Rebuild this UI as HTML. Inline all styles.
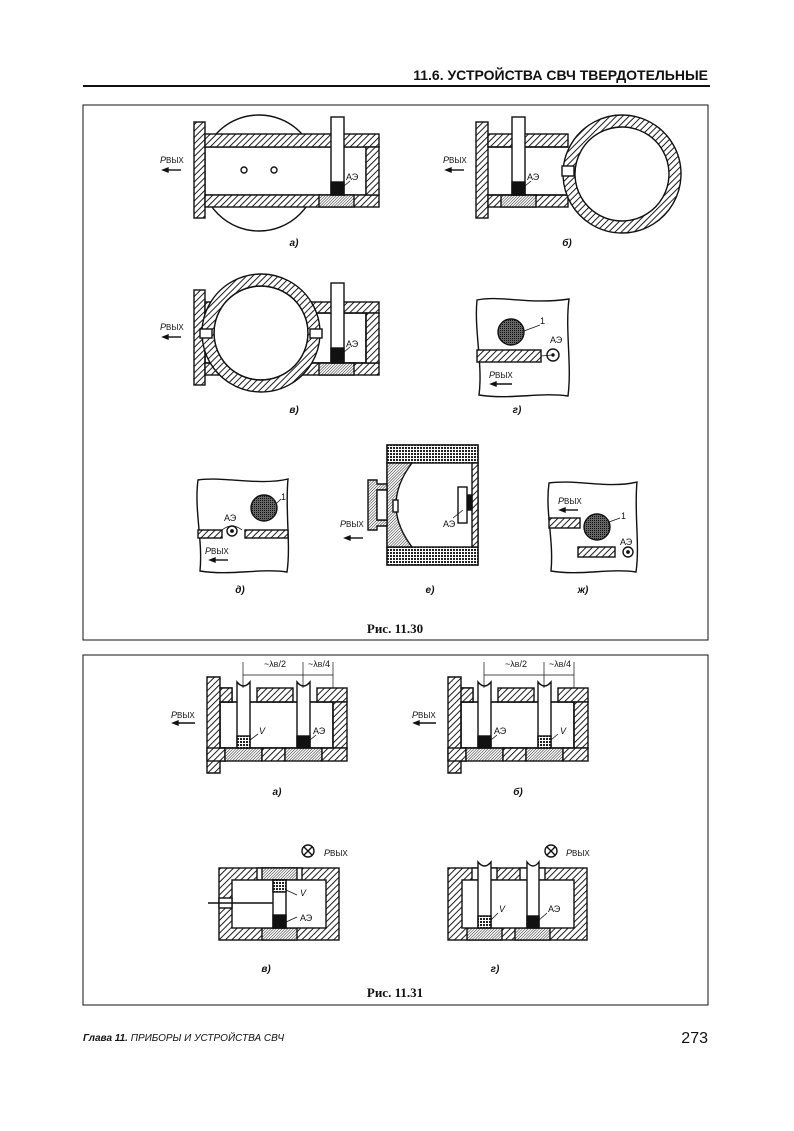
<!DOCTYPE html>
<html><head><meta charset="utf-8"><style>
body{margin:0;background:#fff}
svg{display:block}
text{font-family:"Liberation Sans",sans-serif;fill:#111}
</style></head><body>
<svg width="794" height="1131" viewBox="0 0 794 1131" xmlns="http://www.w3.org/2000/svg">
<defs>
<pattern id="h" width="4.5" height="4.5" patternUnits="userSpaceOnUse" patternTransform="rotate(45)">
<rect width="4.5" height="4.5" fill="#fff"/><line x1="0" y1="0" x2="0" y2="4.5" stroke="#111" stroke-width="1.9"/></pattern>
<pattern id="f" width="2" height="2" patternUnits="userSpaceOnUse" patternTransform="rotate(45)">
<rect width="2" height="2" fill="#fff"/><line x1="0" y1="0" x2="0" y2="2" stroke="#222" stroke-width="1"/></pattern>
<pattern id="c" width="3" height="3" patternUnits="userSpaceOnUse">
<rect width="3" height="3" fill="#fff"/><rect width="2" height="2" fill="#222"/></pattern>
<pattern id="d" width="2" height="2" patternUnits="userSpaceOnUse">
<rect width="2" height="2" fill="#666"/><rect width="1" height="1" fill="#111"/></pattern>
</defs>
<g stroke="#111" stroke-width="1.4">
<line x1="83" y1="86" x2="710" y2="86" stroke-width="2"/>
<rect x="83" y="105" width="625" height="535" fill="none" stroke-width="1"/>
<rect x="83" y="655" width="625" height="350" fill="none" stroke-width="1"/>

<!-- Fig a -->
<circle cx="259" cy="173" r="58" fill="#fff"/>
<rect x="205" y="147" width="161" height="48" fill="#fff"/>
<rect x="194" y="122" width="11" height="96" fill="url(#h)"/>
<rect x="205" y="134" width="174" height="13" fill="url(#h)"/>
<rect x="205" y="195" width="174" height="12" fill="url(#h)"/>
<rect x="319" y="195" width="35" height="12" fill="url(#f)"/>
<rect x="366" y="147" width="13" height="48" fill="url(#h)"/>
<rect x="331" y="117" width="13" height="78" fill="#fff"/>
<rect x="331" y="182" width="13" height="13" fill="#111"/>
<circle cx="244" cy="170" r="3" fill="#fff"/><circle cx="274" cy="170" r="3" fill="#fff"/>
<line x1="165" y1="170" x2="181" y2="170"/><path d="M163 170l5-2v4z" fill="#111"/>
<line x1="344" y1="186" x2="350" y2="181" stroke-width="0.8"/>

<!-- Fig b -->
<rect x="488" y="147" width="85" height="48" fill="#fff" stroke="none"/>
<rect x="476" y="122" width="12" height="96" fill="url(#h)"/>
<rect x="488" y="134" width="80" height="13" fill="url(#h)"/>
<rect x="488" y="195" width="80" height="12" fill="url(#h)"/>
<rect x="501" y="195" width="35" height="12" fill="url(#f)"/>
<line x1="488" y1="147" x2="568" y2="147"/><line x1="488" y1="195" x2="568" y2="195"/>
<path d="M622 115a59 59 0 1 0 0.01 0zM622 127a47 47 0 1 1 -0.01 0z" fill="url(#h)" fill-rule="evenodd"/>
<rect x="562" y="166" width="12" height="10" fill="#fff"/>
<rect x="512" y="117" width="13" height="78" fill="#fff"/>
<rect x="512" y="182" width="13" height="13" fill="#111"/>
<line x1="448" y1="170" x2="464" y2="170"/><path d="M446 170l5-2v4z" fill="#111"/>
<line x1="525" y1="186" x2="531" y2="181" stroke-width="0.8"/>

<!-- Fig v -->
<rect x="205" y="313" width="161" height="50" fill="#fff"/>
<rect x="194" y="290" width="11" height="95" fill="url(#h)"/>
<rect x="205" y="302" width="174" height="11" fill="url(#h)"/>
<rect x="205" y="363" width="174" height="12" fill="url(#h)"/>
<rect x="319" y="363" width="35" height="12" fill="url(#f)"/>
<rect x="366" y="313" width="13" height="50" fill="url(#h)"/>
<rect x="205" y="313" width="161" height="50" fill="none"/>
<circle cx="261" cy="333" r="47" fill="#fff"/>
<path d="M261 274a59 59 0 1 0 0.01 0zM261 286a47 47 0 1 1 -0.01 0z" fill="url(#h)" fill-rule="evenodd"/>
<rect x="200" y="329" width="12" height="9" fill="#fff"/>
<rect x="310" y="329" width="12" height="9" fill="#fff"/>
<rect x="331" y="283" width="13" height="80" fill="#fff"/>
<rect x="331" y="348" width="13" height="15" fill="#111"/>
<line x1="165" y1="337" x2="181" y2="337"/><path d="M163 337l5-2v4z" fill="#111"/>
<line x1="344" y1="352" x2="350" y2="347" stroke-width="0.8"/>

<!-- Fig g -->
<path d="M477 300 C500 295 530 305 569 299 C565 330 572 365 568 396 C540 392 510 400 479 395 C483 365 474 330 477 300Z" fill="#fff"/>
<circle cx="511" cy="332" r="13" fill="url(#d)"/>
<rect x="477" y="350" width="64" height="12" fill="url(#h)"/>
<circle cx="553" cy="355" r="6" fill="#fff"/><circle cx="553" cy="355" r="1" fill="#111"/>
<line x1="524" y1="331" x2="540" y2="325" stroke-width="0.8"/>
<line x1="541" y1="356" x2="552" y2="355" stroke-width="0.8"/>
<line x1="493" y1="384" x2="512" y2="384"/><path d="M491 384l5-2v4z" fill="#111"/>

<!-- Fig d -->
<path d="M198 480 C220 476 260 486 288 479 C285 510 291 545 287 572 C260 568 230 576 200 571 C203 540 194 510 198 480Z" fill="#fff"/>
<circle cx="264" cy="508" r="13" fill="url(#d)"/>
<rect x="198" y="530" width="24" height="8" fill="url(#h)"/>
<rect x="245" y="530" width="43" height="8" fill="url(#h)"/>
<path d="M222 530 q5 -4 10 -4 q5 0 10 4" fill="none" stroke-width="0.8"/>
<circle cx="232" cy="531" r="5" fill="#fff"/><circle cx="232" cy="531" r="1.2" fill="#111"/>
<line x1="277" y1="503" x2="281" y2="499" stroke-width="0.8"/>
<line x1="212" y1="560" x2="228" y2="560"/><path d="M210 560l5-2v4z" fill="#111"/>

<!-- Fig e -->
<rect x="387" y="445" width="91" height="120" fill="#fff"/>
<rect x="387" y="445" width="91" height="18" fill="url(#c)"/>
<rect x="387" y="547" width="91" height="18" fill="url(#c)"/>
<path d="M387 463 H412 Q380 505 412 547 H387Z" fill="url(#f)"/>
<rect x="393" y="500" width="5" height="12" fill="#fff"/>
<rect x="472" y="463" width="6" height="84" fill="url(#h)"/>
<rect x="467" y="495" width="5" height="15" fill="#111"/>
<rect x="458" y="487" width="9" height="36" fill="#fff"/>
<path d="M368 480 h9 v4 h10 v6 h-10 v30 h10 v6 h-10 v4 h-9z" fill="url(#f)"/>
<rect x="377" y="490" width="10" height="30" fill="#fff"/>
<line x1="347" y1="538" x2="363" y2="538"/><path d="M345 538l5-2v4z" fill="#111"/>
<line x1="453" y1="518" x2="463" y2="510" stroke-width="0.8"/>

<!-- Fig zh -->
<path d="M549 483 C575 479 610 489 637 482 C634 512 640 545 636 572 C610 568 580 576 551 571 C554 540 545 512 549 483Z" fill="#fff"/>
<rect x="549" y="518" width="31" height="10" fill="url(#h)"/>
<circle cx="597" cy="527" r="13" fill="url(#d)"/>
<rect x="578" y="547" width="37" height="10" fill="url(#h)"/>
<circle cx="628" cy="552" r="5" fill="#fff"/><circle cx="628" cy="552" r="1.2" fill="#111"/>
<line x1="609" y1="522" x2="620" y2="518" stroke-width="0.8"/>
<line x1="562" y1="510" x2="578" y2="510"/><path d="M560 510l5-2v4z" fill="#111"/>

<!-- 11.31 a -->
<g id="A">
<rect x="220" y="702" width="113" height="46" fill="#fff"/>
<path d="M207 677 h13 v11 h12 v14 h-12 v46 h5 v13 h-5 v12 h-13z" fill="url(#h)"/>
<rect x="220" y="688" width="12" height="14" fill="url(#h)"/>
<rect x="257" y="688" width="36" height="14" fill="url(#h)"/>
<rect x="317" y="688" width="30" height="14" fill="url(#h)"/>
<rect x="333" y="702" width="14" height="46" fill="url(#h)"/>
<rect x="207" y="748" width="18" height="13" fill="url(#h)"/>
<rect x="225" y="748" width="37" height="13" fill="url(#f)"/>
<rect x="262" y="748" width="23" height="13" fill="url(#h)"/>
<rect x="285" y="748" width="37" height="13" fill="url(#f)"/>
<rect x="322" y="748" width="25" height="13" fill="url(#h)"/>
<rect x="220" y="702" width="113" height="46" fill="none"/>
<path d="M237 748 V682 q6.5 8 13 0 V748" fill="#fff"/>
<path d="M297 748 V682 q6.5 8 13 0 V748" fill="#fff"/>
</g>
<rect x="237" y="736" width="13" height="12" fill="url(#c)"/>
<rect x="297" y="736" width="13" height="12" fill="#111"/>
<g stroke-width="0.7">
<line x1="243" y1="662" x2="243" y2="688"/><line x1="303" y1="662" x2="303" y2="688"/><line x1="333" y1="662" x2="333" y2="688"/>
<line x1="243" y1="675" x2="333" y2="675"/>
</g>
<line x1="250" y1="740" x2="258" y2="734" stroke-width="0.8"/>
<line x1="310" y1="740" x2="316" y2="735" stroke-width="0.8"/>
<line x1="176" y1="723" x2="195" y2="723"/><path d="M173 723l5-2v4z" fill="#111"/>

<!-- 11.31 b -->
<use href="#A" x="241"/>
<rect x="478" y="736" width="13" height="12" fill="#111"/>
<rect x="538" y="736" width="13" height="12" fill="url(#c)"/>
<g stroke-width="0.7">
<line x1="484" y1="662" x2="484" y2="688"/><line x1="544" y1="662" x2="544" y2="688"/><line x1="574" y1="662" x2="574" y2="688"/>
<line x1="484" y1="675" x2="574" y2="675"/>
</g>
<line x1="491" y1="740" x2="497" y2="735" stroke-width="0.8"/>
<line x1="551" y1="740" x2="558" y2="734" stroke-width="0.8"/>
<line x1="417" y1="723" x2="436" y2="723"/><path d="M414 723l5-2v4z" fill="#111"/>

<!-- 11.31 v -->
<rect x="219" y="868" width="120" height="72" fill="url(#h)"/>
<rect x="257" y="868" width="45" height="12" fill="#fff"/>
<rect x="262" y="868" width="35" height="12" fill="url(#f)"/>
<rect x="262" y="928" width="35" height="12" fill="url(#f)"/>
<rect x="232" y="880" width="94" height="48" fill="#fff"/>
<rect x="219" y="898" width="13" height="10" fill="#fff"/>
<rect x="273" y="880" width="13" height="48" fill="#fff"/>
<rect x="273" y="880" width="13" height="12" fill="url(#c)"/>
<rect x="273" y="915" width="13" height="13" fill="#111"/>
<line x1="208" y1="903" x2="273" y2="903"/>
<line x1="286" y1="890" x2="297" y2="895" stroke-width="0.8"/>
<line x1="286" y1="922" x2="297" y2="917" stroke-width="0.8"/>
<circle cx="308" cy="851" r="6" fill="#fff"/><path d="M304 847l8 8M312 847l-8 8"/>

<!-- 11.31 g -->
<rect x="448" y="868" width="139" height="72" fill="url(#h)"/>
<rect x="472" y="868" width="25" height="12" fill="#fff"/>
<rect x="520" y="868" width="25" height="12" fill="#fff"/>
<rect x="467" y="928" width="35" height="12" fill="url(#f)"/>
<rect x="515" y="928" width="35" height="12" fill="url(#f)"/>
<rect x="462" y="880" width="112" height="48" fill="#fff"/>
<path d="M478 928 V862 q6.5 8 13 0 V928" fill="#fff"/>
<path d="M527 928 V862 q6 8 12 0 V928" fill="#fff"/>
<rect x="478" y="916" width="13" height="12" fill="url(#c)"/>
<rect x="527" y="916" width="12" height="12" fill="#111"/>
<line x1="491" y1="920" x2="498" y2="913" stroke-width="0.8"/>
<line x1="539" y1="920" x2="547" y2="913" stroke-width="0.8"/>
<circle cx="551" cy="851" r="6" fill="#fff"/><path d="M547 847l8 8M555 847l-8 8"/>
</g>

<g font-size="9">
<text x="708" y="80" font-size="14" font-weight="bold" text-anchor="end">11.6. УСТРОЙСТВА СВЧ ТВЕРДОТЕЛЬНЫЕ</text>
<text x="160" y="163" font-style="italic">P<tspan font-style="normal" font-size="8">ВЫХ</tspan></text>
<text x="346" y="180">АЭ</text>
<text x="443" y="163" font-style="italic">P<tspan font-style="normal" font-size="8">ВЫХ</tspan></text>
<text x="527" y="180">АЭ</text>
<text x="160" y="330" font-style="italic">P<tspan font-style="normal" font-size="8">ВЫХ</tspan></text>
<text x="346" y="347">АЭ</text>
<text x="540" y="324">1</text>
<text x="550" y="343">АЭ</text>
<text x="489" y="378" font-style="italic">P<tspan font-style="normal" font-size="8">ВЫХ</tspan></text>
<text x="224" y="521">АЭ</text>
<text x="281" y="500">1</text>
<text x="205" y="554" font-style="italic">P<tspan font-style="normal" font-size="8">ВЫХ</tspan></text>
<text x="340" y="527" font-style="italic">P<tspan font-style="normal" font-size="8">ВЫХ</tspan></text>
<text x="443" y="527">АЭ</text>
<text x="558" y="504" font-style="italic">P<tspan font-style="normal" font-size="8">ВЫХ</tspan></text>
<text x="621" y="519">1</text>
<text x="620" y="545">АЭ</text>
<text x="264" y="667">~λ<tspan font-size="7">В</tspan>/2</text>
<text x="308" y="667">~λ<tspan font-size="7">В</tspan>/4</text>
<text x="505" y="667">~λ<tspan font-size="7">В</tspan>/2</text>
<text x="549" y="667">~λ<tspan font-size="7">В</tspan>/4</text>
<text x="171" y="718" font-style="italic">P<tspan font-style="normal" font-size="8">ВЫХ</tspan></text>
<text x="412" y="718" font-style="italic">P<tspan font-style="normal" font-size="8">ВЫХ</tspan></text>
<text x="259" y="734" font-style="italic">V</text>
<text x="313" y="734">АЭ</text>
<text x="494" y="734">АЭ</text>
<text x="560" y="734" font-style="italic">V</text>
<text x="324" y="856" font-style="italic">P<tspan font-style="normal" font-size="8">ВЫХ</tspan></text>
<text x="566" y="856" font-style="italic">P<tspan font-style="normal" font-size="8">ВЫХ</tspan></text>
<text x="300" y="896" font-style="italic">V</text>
<text x="300" y="921">АЭ</text>
<text x="499" y="912" font-style="italic">V</text>
<text x="548" y="912">АЭ</text>
</g>
<g font-size="10" font-weight="bold" font-style="italic" text-anchor="middle">
<text x="294" y="246">а)</text><text x="567" y="246">б)</text>
<text x="294" y="413">в)</text><text x="517" y="413">г)</text>
<text x="240" y="593">д)</text><text x="430" y="593">е)</text><text x="583" y="593">ж)</text>
<text x="277" y="795">а)</text><text x="518" y="795">б)</text>
<text x="266" y="972">в)</text><text x="495" y="972">г)</text>
</g>
<g font-weight="bold" font-size="13" text-anchor="middle">
<text x="395" y="633" style="font-family:'Liberation Serif',serif">Рис. 11.30</text>
<text x="395" y="997" style="font-family:'Liberation Serif',serif">Рис. 11.31</text>
</g>
<text x="83" y="1041" font-size="10" font-style="italic"><tspan font-weight="bold">Глава 11.</tspan> ПРИБОРЫ И УСТРОЙСТВА СВЧ</text>
<text x="708" y="1043" font-size="16" text-anchor="end">273</text>
</svg>
</body></html>
